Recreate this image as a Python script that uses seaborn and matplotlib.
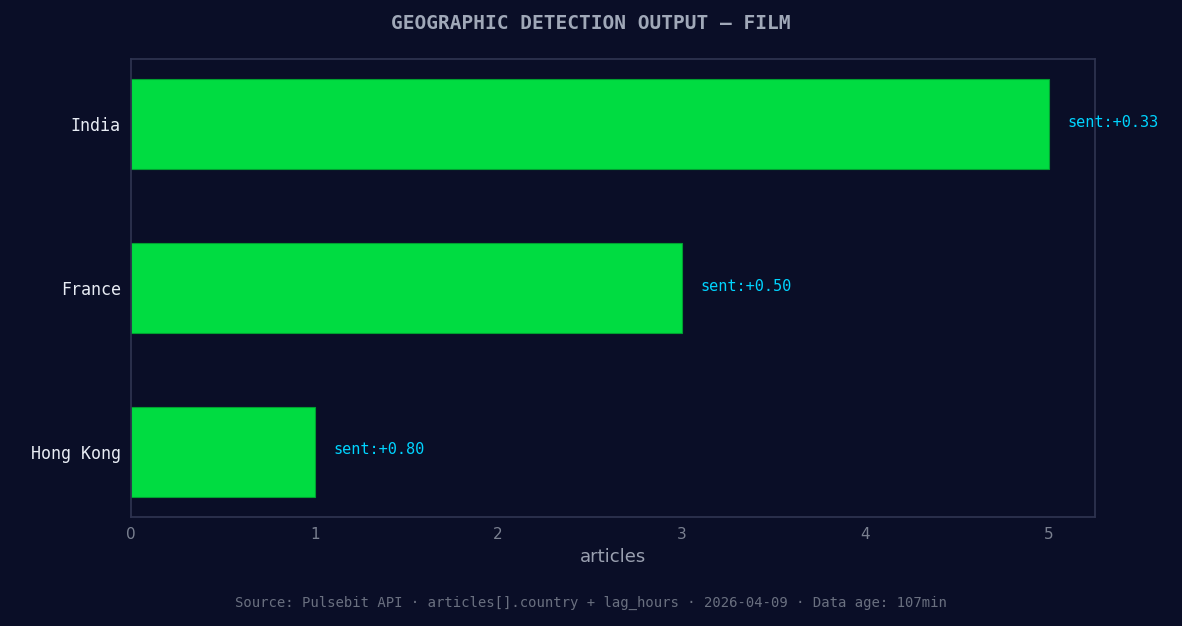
import matplotlib
matplotlib.use("Agg")
import matplotlib.pyplot as plt
import seaborn as sns
import pandas as pd

countries = ["India", "France", "Hong Kong"]
articles = [5, 3, 1]
sentiment = ["+0.33", "+0.50", "+0.80"]

bg = "#0a0e27"
sns.set_theme(style="dark")
fig = plt.figure(figsize=(11.82, 6.26), dpi=100, facecolor=bg)
ax = fig.add_axes([0.111, 0.174, 0.815, 0.732], facecolor=bg)
df = pd.DataFrame({"country": countries, "articles": articles})
sns.barplot(data=df, y="country", x="articles", orient="h", color="#00dc41",
            width=0.55, saturation=1, edgecolor="#00a030", linewidth=0.8, ax=ax)
for i, (v, s) in enumerate(zip(articles, sentiment)):
    ax.text(v + 0.1, i - 0.01, f"sent:{s}", color="#00d4ff", va="center",
            fontsize=11, family="DejaVu Sans Mono")
ax.set_xlim(0, 5.25)
ax.set_ylim(2.4, -0.4)
ax.set_ylabel("")
ax.set_xlabel("articles", color="#9aa0b0", fontsize=13)
ax.tick_params(axis="x", colors="#7a8090", labelsize=11, length=4, color="#7a8090")
ax.tick_params(axis="y", colors="#e8ecf4", labelsize=12, length=4, color="#7a8090")
for t in ax.get_yticklabels():
    t.set_family("DejaVu Sans Mono")
for t in ax.get_xticklabels():
    t.set_color("#7a8090")
ax.grid(False)
for sp in ax.spines.values():
    sp.set_visible(True)
    sp.set_color("#2e3350")
fig.text(0.5, 0.962, "GEOGRAPHIC DETECTION OUTPUT — FILM", ha="center", va="center",
         color="#a0a8b8", fontsize=14, fontweight="bold", family="DejaVu Sans Mono")
fig.text(0.5, 0.037, "Source: Pulsebit API · articles[].country + lag_hours · 2026-04-09 · Data age: 107min",
         ha="center", va="center", color="#6a7080", fontsize=10, family="DejaVu Sans Mono")
fig.savefig("out.png", dpi=100, facecolor=bg)
